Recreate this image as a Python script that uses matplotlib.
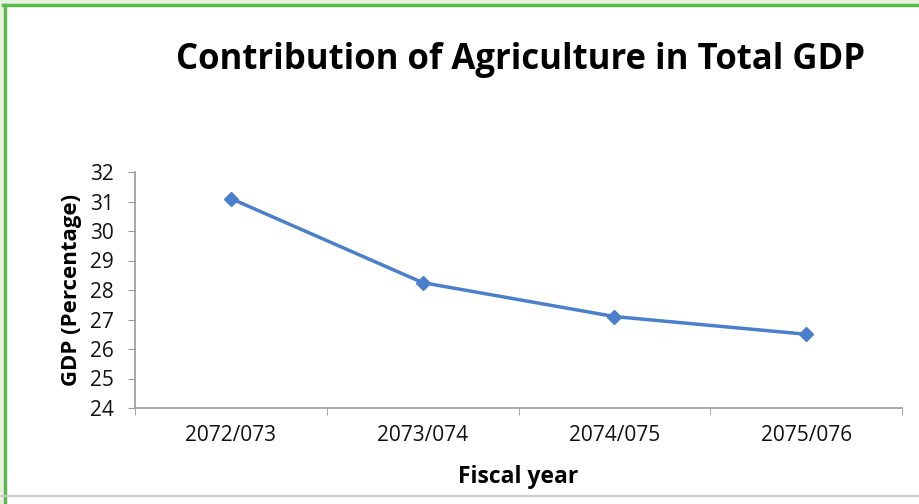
import matplotlib.pyplot as plt
from matplotlib.patches import Rectangle

years = ["2072/073", "2073/074", "2074/075", "2075/076"]
gdp_share = [31.1, 28.25, 27.1, 26.5]
y_ticks = [24, 25, 26, 27, 28, 29, 30, 31, 32]

plt.rcParams["font.family"] = ["Open Sans", "DejaVu Sans"]

fig = plt.figure(figsize=(9.19, 5.04), dpi=100)
W, H = 919, 504
ax = fig.add_axes([135 / W, 1 - 408 / H, 767 / W, 236 / H])

x = list(range(len(years)))
ax.plot(x, gdp_share, color="#4a7fcb", lw=2.5, marker="D", ms=7, zorder=3)

ax.set_xlim(-0.5, len(years) - 0.5)
ax.set_ylim(24, 32)
ax.set_yticks(y_ticks)
ax.set_yticklabels([str(v) for v in y_ticks], fontsize=15, color="#111111")
ax.set_xticks(x)
ax.set_xticklabels(years, fontsize=15, color="#111111")
ax.set_xticks([i + 0.5 for i in range(-1, len(years))], minor=True)

ax.tick_params(axis="x", which="major", length=0, pad=12)
ax.tick_params(axis="x", which="minor", length=5, color="#999999", direction="out")
ax.tick_params(axis="y", length=5, color="#999999", direction="out", pad=10)

for s in ["top", "right"]:
    ax.spines[s].set_visible(False)
for s in ["left", "bottom"]:
    ax.spines[s].set_color("#999999")
    ax.spines[s].set_linewidth(1.2)

ax.set_xlabel("Fiscal year", fontsize=16.5, fontweight="bold", labelpad=14)
ax.set_ylabel("GDP (Percentage)", fontsize=16, fontweight="bold", labelpad=6)

fig.text(520 / W, 1 - 60 / H, "Contribution of Agriculture in Total GDP",
         ha="center", va="center", fontsize=25, fontweight="bold")

# frame around the picture
fig.patches.append(Rectangle((0, 1 - 3 / H), 1, 3 / H, transform=fig.transFigure,
                             color="#e6f2dc", zorder=0))
fig.patches.append(Rectangle((0, 0), 3 / W, 1, transform=fig.transFigure,
                             color="#e6f2dc", zorder=0))
fig.add_artist(plt.Line2D([3 / W, 1], [1 - 4.5 / H, 1 - 4.5 / H], transform=fig.transFigure,
                          color="#5cb84f", lw=2.5))
fig.add_artist(plt.Line2D([4.5 / W, 4.5 / W], [0, 1 - 4.5 / H], transform=fig.transFigure,
                          color="#5cb84f", lw=2.5))
fig.add_artist(plt.Line2D([0, 1], [1 - 496 / H, 1 - 496 / H], transform=fig.transFigure,
                          color="#cccccc", lw=1.5))

fig.savefig("out.png", dpi=100)
